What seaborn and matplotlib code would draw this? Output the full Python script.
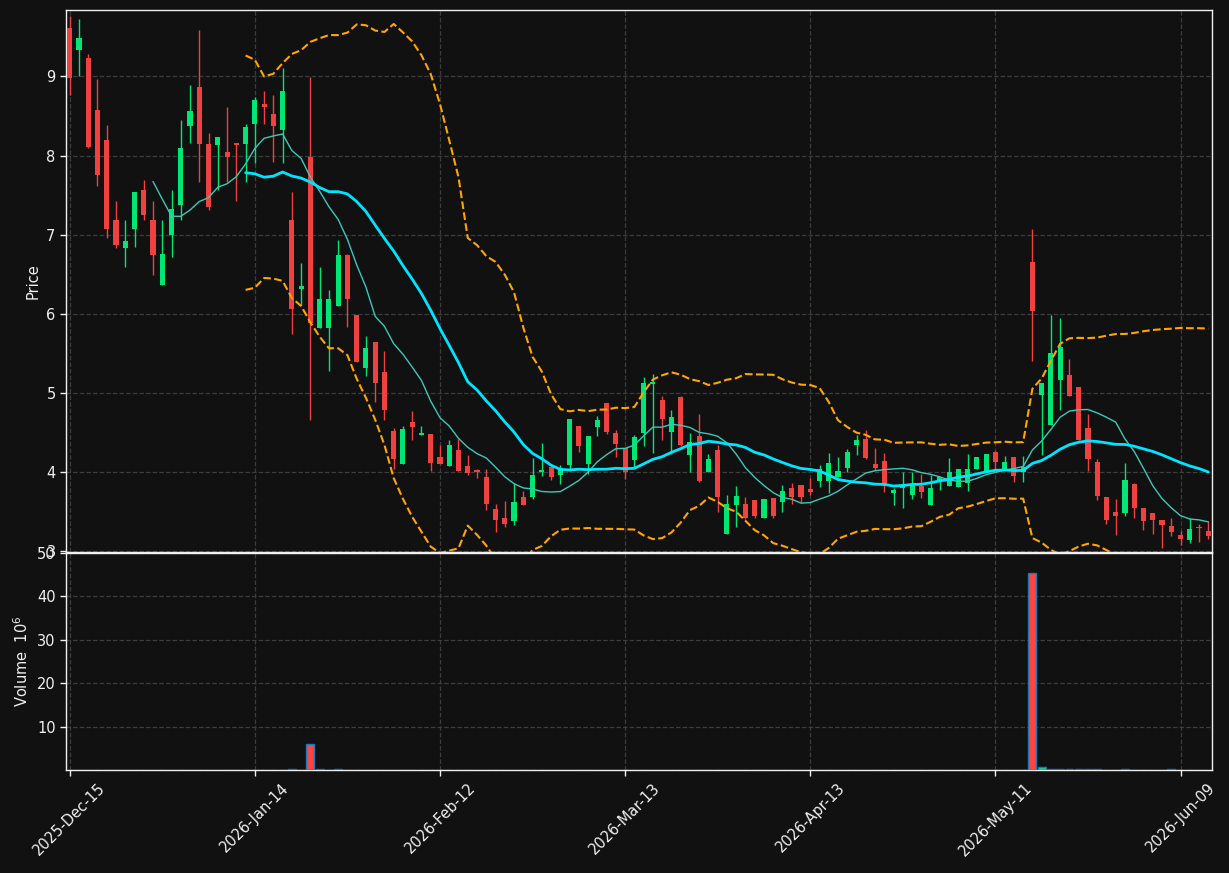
import numpy as np
import pandas as pd
import matplotlib
matplotlib.use("Agg")
import matplotlib.pyplot as plt
import seaborn as sns

# ---------------- data ----------------
opens = [9.61, 9.33, 9.23, 8.58, 8.20, 7.19, 6.83, 7.07, 7.56, 7.19,
         6.36, 7.00, 7.37, 8.37, 8.87, 8.15, 8.13, 8.05, 8.15, 8.15,
         8.40, 8.65, 8.52, 8.32, 7.19, 6.32, 7.98, 5.82, 5.82, 6.10,
         6.74, 5.99, 5.31, 5.65, 5.26, 4.52, 4.10, 4.63, 4.47, 4.48,
         4.19, 4.08, 4.28, 4.08, 4.03, 3.94, 3.53, 3.42, 3.38, 3.68,
         3.69, 4.00, 4.07, 3.96, 4.09, 4.58, 4.10, 4.57, 4.87, 4.49,
         4.31, 4.15, 4.50, 5.11, 4.91, 4.51, 4.95, 4.21, 4.46, 4.00,
         4.28, 3.22, 3.58, 3.60, 3.65, 3.42, 3.67, 3.62, 3.80, 3.84,
         3.79, 3.89, 3.89, 3.94, 4.05, 4.34, 4.42, 4.10, 4.14, 3.73,
         3.80, 3.71, 3.83, 3.59, 3.88, 3.82, 3.81, 3.86, 4.04, 4.02,
         4.25, 4.04, 4.19, 4.00, 6.66, 4.98, 4.59, 5.16, 5.23, 5.08,
         4.56, 4.13, 3.68, 3.50, 3.48, 3.85, 3.55, 3.48, 3.40, 3.32,
         3.21, 3.14, 3.31, 3.26]
highs = [9.77, 9.72, 9.28, 8.97, 8.39, 7.42, 7.18, 7.54, 7.69, 7.42,
         7.19, 7.56, 8.45, 8.89, 9.59, 8.28, 8.24, 8.62, 8.15, 8.40,
         8.74, 8.82, 8.76, 9.11, 7.54, 6.64, 8.99, 6.59, 6.30, 6.93,
         6.75, 5.99, 5.72, 5.65, 5.53, 4.56, 4.58, 4.77, 4.58, 4.48,
         4.34, 4.40, 4.42, 4.21, 4.04, 4.04, 3.60, 3.64, 3.86, 3.76,
         4.18, 4.37, 4.07, 4.09, 4.67, 4.58, 4.46, 4.71, 4.87, 4.53,
         4.31, 4.47, 5.20, 5.24, 4.96, 4.78, 4.96, 4.50, 4.73, 4.23,
         4.34, 3.71, 3.82, 3.68, 3.65, 3.66, 3.67, 3.84, 3.86, 3.84,
         3.93, 4.09, 4.24, 4.19, 4.29, 4.47, 4.53, 4.31, 4.24, 3.80,
         4.00, 4.00, 3.97, 3.96, 3.94, 4.18, 4.04, 4.23, 4.19, 4.23,
         4.27, 4.20, 4.19, 4.20, 7.07, 5.13, 5.99, 5.95, 5.43, 5.08,
         4.73, 4.17, 3.68, 3.66, 4.11, 3.86, 3.55, 3.48, 3.40, 3.42,
         3.26, 3.42, 3.34, 3.38]
lows = [8.76, 9.00, 8.10, 7.62, 6.96, 6.83, 6.59, 6.85, 7.19, 6.49,
        6.36, 6.72, 7.19, 8.16, 7.66, 7.31, 7.56, 7.66, 7.43, 7.66,
        7.91, 8.40, 7.92, 7.91, 5.75, 6.11, 4.66, 5.82, 5.28, 6.10,
        5.83, 5.39, 5.22, 4.89, 4.66, 4.04, 4.10, 4.40, 4.47, 4.01,
        4.10, 4.08, 4.01, 3.96, 3.93, 3.52, 3.24, 3.31, 3.33, 3.58,
        3.66, 3.95, 3.90, 3.85, 4.01, 4.26, 3.97, 4.46, 4.48, 4.19,
        3.91, 4.07, 4.33, 4.24, 4.40, 4.23, 4.33, 4.00, 3.87, 4.00,
        3.49, 3.22, 3.31, 3.41, 3.42, 3.42, 3.42, 3.49, 3.60, 3.61,
        3.71, 3.81, 3.73, 3.94, 4.00, 4.21, 4.17, 4.03, 3.75, 3.59,
        3.55, 3.66, 3.67, 3.59, 3.77, 3.82, 3.81, 3.76, 4.04, 4.02,
        4.03, 4.04, 3.87, 3.87, 5.40, 4.21, 4.59, 4.79, 4.96, 4.40,
        4.01, 3.65, 3.35, 3.21, 3.44, 3.42, 3.27, 3.22, 3.04, 3.19,
        3.08, 3.10, 3.12, 3.16]
closes = [8.98, 9.49, 8.11, 7.76, 7.07, 6.87, 6.92, 7.54, 7.25, 6.74,
          6.75, 7.33, 8.09, 8.56, 8.15, 7.35, 8.24, 7.98, 8.14, 8.36,
          8.70, 8.62, 8.38, 8.81, 6.06, 6.35, 5.89, 6.19, 6.19, 6.74,
          6.19, 5.39, 5.57, 5.12, 4.79, 4.16, 4.55, 4.57, 4.50, 4.12,
          4.10, 4.34, 4.01, 3.99, 4.00, 3.60, 3.40, 3.35, 3.62, 3.59,
          3.96, 4.03, 3.94, 4.05, 4.67, 4.33, 4.46, 4.66, 4.51, 4.35,
          4.00, 4.44, 5.12, 5.14, 4.67, 4.69, 4.34, 4.38, 3.89, 4.17,
          3.69, 3.60, 3.70, 3.42, 3.45, 3.66, 3.44, 3.76, 3.68, 3.68,
          3.75, 4.04, 4.11, 4.01, 4.26, 4.41, 4.18, 4.05, 3.82, 3.77,
          3.83, 3.85, 3.75, 3.80, 3.94, 4.00, 4.04, 4.04, 4.19, 4.23,
          4.13, 4.13, 3.95, 4.06, 6.03, 5.13, 5.51, 5.58, 4.96, 4.40,
          4.16, 3.70, 3.40, 3.44, 3.90, 3.55, 3.38, 3.39, 3.33, 3.24,
          3.16, 3.28, 3.29, 3.19]
volumes_m = [0.03, 0.03, 0.03, 0.03, 0.03, 0.03, 0.03, 0.03, 0.03, 0.03,
             0.03, 0.03, 0.03, 0.03, 0.03, 0.03, 0.03, 0.03, 0.03, 0.03,
             0.03, 0.03, 0.03, 0.03, 0.25, 0.03, 6.10, 0.20, 0.03, 0.20,
             0.03, 0.03, 0.03, 0.03, 0.03, 0.03, 0.03, 0.03, 0.03, 0.03,
             0.03, 0.03, 0.03, 0.03, 0.03, 0.03, 0.03, 0.03, 0.03, 0.03,
             0.03, 0.03, 0.03, 0.03, 0.03, 0.03, 0.03, 0.03, 0.03, 0.03,
             0.03, 0.03, 0.03, 0.03, 0.03, 0.03, 0.03, 0.03, 0.03, 0.03,
             0.03, 0.03, 0.03, 0.03, 0.03, 0.03, 0.03, 0.03, 0.03, 0.03,
             0.03, 0.03, 0.03, 0.03, 0.03, 0.03, 0.03, 0.03, 0.03, 0.03,
             0.03, 0.03, 0.03, 0.03, 0.03, 0.03, 0.03, 0.03, 0.03, 0.03,
             0.03, 0.03, 0.03, 0.03, 45.50, 0.70, 0.15, 0.15, 0.15, 0.15,
             0.15, 0.15, 0.03, 0.03, 0.15, 0.03, 0.03, 0.03, 0.03, 0.15,
             0.03, 0.03, 0.03, 0.03]
tick_positions = [0, 20, 40, 60, 80, 100, 120]
tick_labels = ["2025-Dec-15", "2026-Jan-14", "2026-Feb-12", "2026-Mar-13",
               "2026-Apr-13", "2026-May-11", "2026-Jun-09"]
price_ticks = [3, 4, 5, 6, 7, 8, 9]
volume_ticks = [10, 20, 30, 40, 50]

# ---------------- style ----------------
BG = "#111111"
UP = "#00e676"
DOWN = "#f04040"
FG = "#f0f0f0"
GRID = "#3c3c3c"

sns.set_theme(style="dark", rc={
    "axes.facecolor": BG, "figure.facecolor": BG,
    "axes.edgecolor": FG, "axes.labelcolor": FG,
    "xtick.color": FG, "ytick.color": FG, "text.color": FG,
    "grid.color": GRID, "grid.linestyle": "--", "grid.linewidth": 0.9,
    "xtick.bottom": True, "ytick.left": True,
})
plt.rcParams["font.family"] = ["DejaVu Sans"]

df = pd.DataFrame({"i": np.arange(len(closes)), "o": opens, "h": highs,
                   "l": lows, "c": closes, "v": volumes_m})
df["sma10"] = df["c"].rolling(10).mean()
df["sma20"] = df["c"].rolling(20).mean()
sd = df["c"].rolling(20).std(ddof=0)
df["upper"] = df["sma20"] + 2 * sd
df["lower"] = df["sma20"] - 2 * sd
up = df["c"] >= df["o"]
colors = np.where(up, UP, DOWN)

W, H = 1229, 873
fig = plt.figure(figsize=(W / 100, H / 100), dpi=100, facecolor=BG)
ax = fig.add_axes([66 / W, 1 - 552 / H, (1212 - 66) / W, (552 - 10) / H])
axv = fig.add_axes([66 / W, 1 - 770 / H, (1212 - 66) / W, (770 - 553) / H], sharex=ax)

# candles
ax.vlines(df["i"], df["l"], df["h"], colors=colors, linewidth=1, zorder=2)
body_lo = np.minimum(df["o"], df["c"])
body_h = np.maximum(np.abs(df["c"] - df["o"]), 0.02)
ax.bar(df["i"], body_h, bottom=body_lo, width=0.55, color=colors, linewidth=0, zorder=3)

# indicators
sns.lineplot(data=df, x="i", y="sma10", ax=ax, color="#3cc8b8", linewidth=1.0, zorder=4)
sns.lineplot(data=df, x="i", y="sma20", ax=ax, color="#00e5ff", linewidth=2.0, zorder=5)
sns.lineplot(data=df, x="i", y="upper", ax=ax, color="#ffa500", linewidth=1.5,
             linestyle="--", zorder=5)
sns.lineplot(data=df, x="i", y="lower", ax=ax, color="#ffa500", linewidth=1.5,
             linestyle="--", zorder=5)

# volume
axv.bar(df["i"], df["v"], width=0.85, color=np.where(up, UP, "#ff4444"),
        edgecolor="#1f77b4", linewidth=1.0, zorder=3)

for a in (ax, axv):
    a.grid(True, axis="both")
    a.set_axisbelow(True)
    for s in a.spines.values():
        s.set_color(FG)
        s.set_linewidth(1.0)
    a.tick_params(colors=FG, labelsize=10.5, length=4, width=1)

ax.set_xlim(-0.4, 123.4)
ax.set_ylim(2.99, 9.84)
ax.set_yticks(price_ticks)
ax.set_ylabel("Price", fontsize=10.5)
ax.set_xlabel("")
ax.tick_params(axis="x", labelbottom=False)

axv.set_ylim(0, 50)
axv.set_yticks(volume_ticks)
axv.set_xticks(tick_positions)
axv.set_xticklabels(tick_labels, rotation=45)
axv.set_ylabel("Volume  $10^{6}$", fontsize=10.5)
axv.set_xlabel("")

fig.savefig("out.png", dpi=100, facecolor=BG)
